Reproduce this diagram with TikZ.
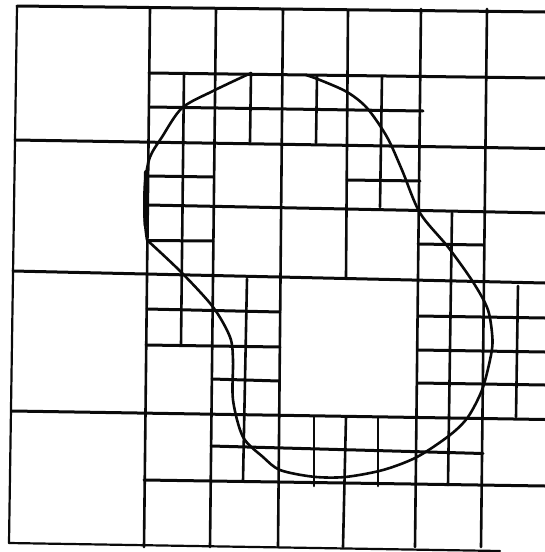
\documentclass[tikz,border=0pt]{standalone}
\usepackage{xcolor}
\definecolor{qtInk}{HTML}{0A0A0A}
\tikzset{
  qt diagram/.style={line cap=round, line join=round},
  qt rule/.style={draw=qtInk, line width=3pt},
  qt post/.style={draw=qtInk, line width=2.6pt},
  qt frame/.style={draw=qtInk, line width=2.2pt},
  qt curve/.style={draw=qtInk, line width=2.6pt}
}
\begin{document}
\begin{tikzpicture}[qt diagram,x=1pt,y=-1pt]
\useasboundingbox (0,0) rectangle (545,552);
% outer frame
\draw[qt rule] (17,6) -- (545,12);
\draw[qt frame] (17,6) -- (9,543);
\draw[qt frame] (9,543) -- (500,551);
% full height posts
\foreach \xa/\xb in {150/144,216/210,283/278,421/415,487/481}
  \draw[qt post] (\xa,9) -- (\xb,547);
% full width rules
\foreach \xa/\ya/\yb in {15/140/148.5,148/205/213,13/271/283,12/411/419.5,144/480/486,149/73/78}
  \draw[qt rule] (\xa,\ya) -- (545,\yb);
% shorter rules
\foreach \xa/\ya/\xb/\yb in {150/107/423/111,149/176/213/177,347/180/420/181,148/240.5/213/241,
  418/244/483/245,418/316/545/318,418/350/545/352,418/383/545/385,
  147/309/280/312,146/345/280/347,212/379/279/381,211/446/483/453.5}
  \draw[qt rule] (\xa,\ya) -- (\xb,\yb);
% shorter posts
\foreach \xa/\ya/\xb/\yb in {348/10/346/277,346/417/343/547,184/73/181/345,251/73/250/142,317/76/316/143,
  382/76/380/207,452/213/448/485,518/286/516/417,247/279/243/481,314/417/314/486,378/417/378/486}
  \draw[qt post] (\xa,\ya) -- (\xb,\yb);
% the blob
\draw[qt curve] plot[smooth,tension=0.5] coordinates {(251,73) (213,91) (182,108) (162,137) (150,157) (145,183) (144.5,217) (147,240)};
\draw[qt curve] plot[smooth,tension=0.5] coordinates {(147,240) (181,272) (213,307) (230,337) (233,360) (233,400)
  (243,437) (263,457) (280,470) (313,476.7) (345,477) (383,470) (417,457) (450,435) (468,417) (482,390)
  (490,360) (492.5,340) (488,310) (473,282) (448,247) (420,213) (402,170) (387,137) (367,108) (347,92) (320,80) (306,75)};
\draw[qt curve,line width=4pt] (146,172) -- (145.5,225);
\end{tikzpicture}
\end{document}
